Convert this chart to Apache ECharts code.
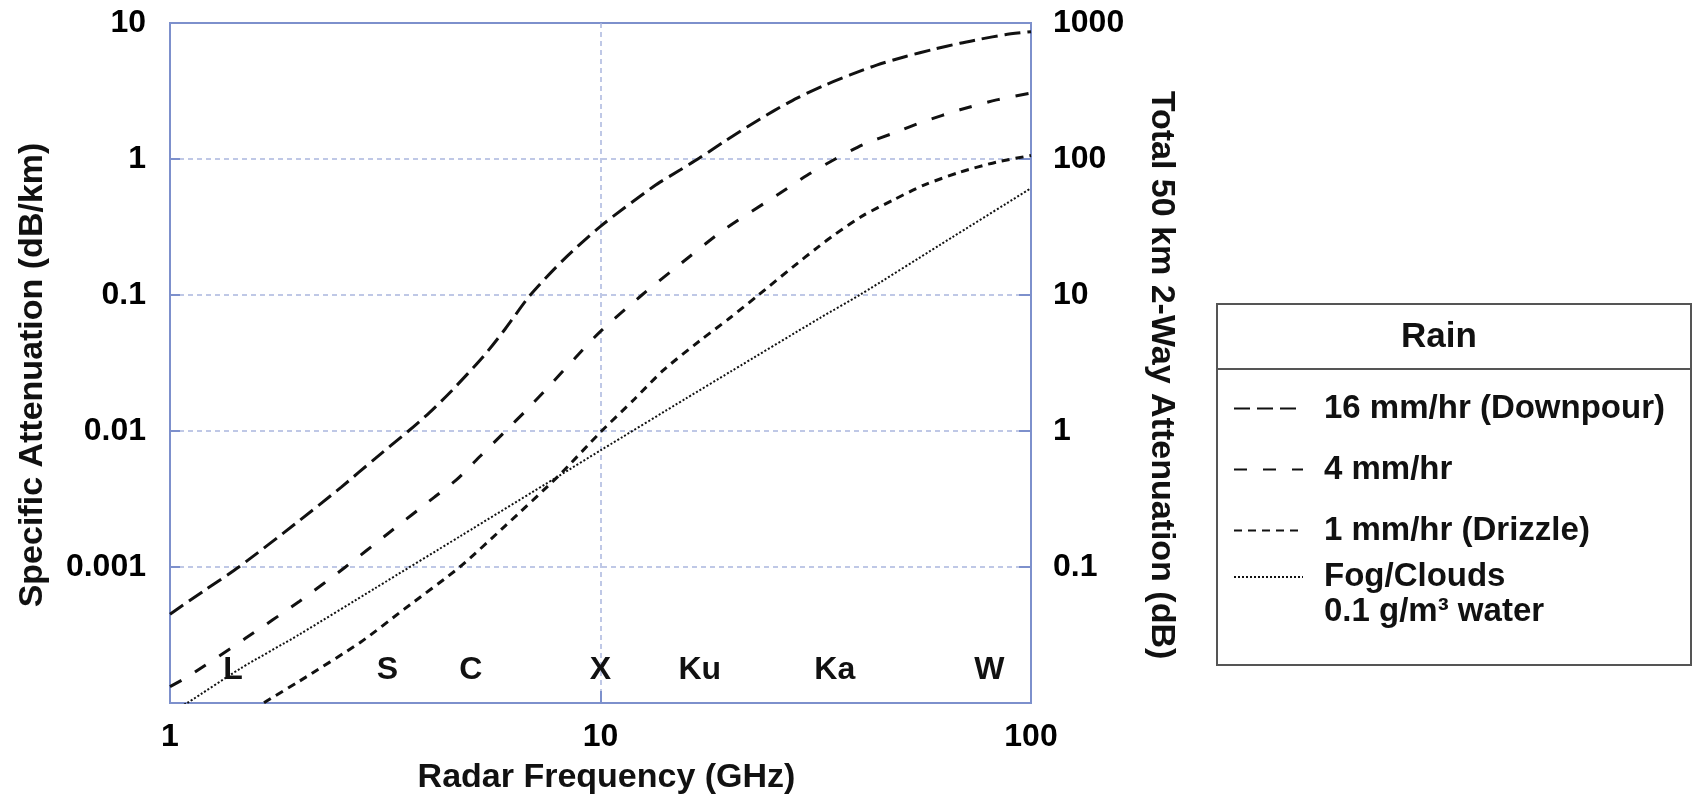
<!DOCTYPE html>
<html>
<head>
<meta charset="utf-8">
<script src="https://cdn.jsdelivr.net/npm/echarts@6/dist/echarts.min.js"></script>
<style>
  html, body { margin: 0; padding: 0; background: #ffffff; }
  #chart { width: 1693px; height: 800px; }
</style>
</head>
<body>
<div id="chart"></div>
<script>
// ---------------- DATA ----------------
// Frequencies in GHz, specific attenuation in dB/km
const freqDownpour  = [1.0, 1.2, 1.445, 2.0, 2.5, 3.0, 3.58, 4.0, 4.5, 5.35, 6.0, 6.87, 8.21, 10.0, 13.28, 15.3, 17.0, 19.3, 21.9, 25.2, 28.6, 32.9, 38.0, 43.8, 51.4, 59.3, 68.4, 76.1, 87.0, 100];
const attenDownpour = [4.5e-4, 6.7e-4, 1.0e-3, 2.2e-3, 3.87e-3, 6.3e-3, 0.010, 0.0136, 0.0196, 0.0355, 0.056, 0.10, 0.182, 0.32, 0.628, 0.83, 1.02, 1.33, 1.72, 2.25, 2.8, 3.45, 4.15, 4.9, 5.7, 6.4, 7.1, 7.6, 8.2, 8.63];

const freqModerate  = [1.0, 1.096, 1.5, 2.0, 2.556, 3.2, 4.1, 4.64, 5.26, 5.96, 6.75, 7.64, 8.7, 10.0, 12.48, 15.0, 19.3, 26.1, 30.2, 35.1, 40.8, 47.9, 56.2, 68.4, 83.2, 100];
const attenModerate = [1.32e-4, 1.55e-4, 3.0e-4, 5.6e-4, 1.0e-3, 1.75e-3, 3.24e-3, 4.41e-3, 6.55e-3, 9.7e-3, 0.0144, 0.0218, 0.034, 0.054, 0.10, 0.16, 0.30, 0.56, 0.76, 1.0, 1.28, 1.55, 1.88, 2.3, 2.72, 3.05];

const freqDrizzle   = [1.0, 1.3, 1.651, 2.0, 2.77, 3.5, 4.71, 6.0, 8.0, 10.0, 12.0, 14.0, 17.0, 20.0, 23.28, 28.0, 32.0, 35.1, 40.8, 47.9, 56.2, 68.4, 83.2, 100];
const attenDrizzle  = [3.6e-5, 5.9e-5, 1.0e-4, 1.45e-4, 2.8e-4, 4.9e-4, 1.0e-3, 2.0e-3, 4.7e-3, 0.0098, 0.0172, 0.028, 0.046, 0.068, 0.10, 0.161, 0.225, 0.28, 0.385, 0.50, 0.64, 0.80, 0.95, 1.06];

const freqFog       = [1.0, 1.096, 1.46, 2.0, 3.0, 4.73, 8.0, 10.0, 15.87, 20.0, 32.4, 40.0, 61.5, 100];
const attenFog      = [8.5e-5, 1.0e-4, 1.8e-4, 3.2e-4, 7.0e-4, 1.69e-3, 4.67e-3, 7.2e-3, 0.0175, 0.0272, 0.068, 0.10, 0.234, 0.61];

const seriesNames = ['16 mm/hr (Downpour)', '4 mm/hr', '1 mm/hr (Drizzle)', 'Fog/Clouds'];
const fogSubtitle = '0.1 g/m³ water';
const legendTitle = 'Rain';

// Radar band labels and their centre frequencies (GHz)
const bandNames = ['L', 'S', 'C', 'X', 'Ku', 'Ka', 'W'];
const bandFreqs = [1.4, 3.2, 5.0, 10.0, 17.0, 35.0, 80.0];
const bandLabelLevel = 1.75e-4; // dB/km level at which band names sit

// Tick labels
const xTicks = [1, 10, 100];
const xTickLabels = ['1', '10', '100'];
const yLeftTicks = [0.001, 0.01, 0.1, 1, 10];
const yLeftTickLabels = ['0.001', '0.01', '0.1', '1', '10'];
const yRightTicks = [0.1, 1, 10, 100, 1000];
const yRightTickLabels = ['0.1', '1', '10', '100', '1000'];

const xTitle = 'Radar Frequency (GHz)';
const yLeftTitle = 'Specific Attenuation (dB/km)';
const yRightTitle = 'Total 50 km 2-Way Attenuation (dB)';

// ---------------- CHART ----------------
function zip(xs, ys) { return xs.map((x, i) => [x, ys[i]]); }
function tickFormatter(ticks, labels) {
  return function (v) {
    const i = ticks.findIndex(t => Math.abs(Math.log10(v) - Math.log10(t)) < 1e-6);
    return i >= 0 ? labels[i] : '';
  };
}

const FONT = '"Liberation Sans", Arial, Helvetica, sans-serif';
const AXIS_BLUE = '#7d90cc';
const GRID_BLUE = '#aab7de';
const INK = '#111111';

const chart = echarts.init(document.getElementById('chart'), null, { renderer: 'canvas' });

const lineCommon = {
  type: 'line',
  showSymbol: false,
  symbol: 'none',
  smooth: 0.25,
  clip: true,
  silent: true,
  xAxisIndex: 0,
  yAxisIndex: 0
};

const legendText = {
  fontFamily: FONT,
  fontWeight: 'bold',
  fontSize: 33,
  color: INK,
  rich: {
    t: { fontFamily: FONT, fontWeight: 'bold', fontSize: 33, color: INK, lineHeight: 35, padding: [0, 0, 0, 16] },
    h: { fontSize: 10, lineHeight: 35 }
  }
};
const legendItemStyle = { opacity: 0, borderWidth: 0 };

const option = {
  backgroundColor: '#ffffff',
  animation: false,
  textStyle: { fontFamily: FONT },
  grid: {
    left: 170, top: 23, width: 861, height: 681,
    show: true, borderColor: AXIS_BLUE, borderWidth: 2, backgroundColor: 'transparent'
  },
  xAxis: {
    type: 'log', logBase: 10, min: 1, max: 100,
    name: xTitle, nameLocation: 'middle', nameGap: 58,
    nameTextStyle: { fontFamily: FONT, fontWeight: 'bold', fontSize: 34, color: INK, padding: [0, 0, 0, 12] },
    axisLine: { show: true, lineStyle: { color: AXIS_BLUE, width: 2 } },
    axisTick: { show: true, inside: true, length: 12, lineStyle: { color: AXIS_BLUE, width: 2 } },
    minorTick: { show: false },
    axisLabel: { margin: 18, fontFamily: FONT, fontWeight: 'bold', fontSize: 32, color: '#000', formatter: tickFormatter(xTicks, xTickLabels) },
    splitLine: { show: true, showMinLine: false, showMaxLine: false, lineStyle: { color: GRID_BLUE, width: 1.5, type: [5, 4] } }
  },
  yAxis: [
    {
      type: 'log', logBase: 10, min: 0.0001, max: 10, position: 'left',
      name: yLeftTitle, nameLocation: 'middle', nameGap: 120,
      nameTextStyle: { fontFamily: FONT, fontWeight: 'bold', fontSize: 34, color: INK, padding: [0, 24, 0, 0] },
      axisLine: { show: true, lineStyle: { color: AXIS_BLUE, width: 2 } },
      axisTick: { show: true, inside: true, length: 10, lineStyle: { color: AXIS_BLUE, width: 2 } },
      axisLabel: { margin: 24, fontFamily: FONT, fontWeight: 'bold', fontSize: 32, color: '#000', formatter: tickFormatter(yLeftTicks, yLeftTickLabels) },
      splitLine: { show: true, showMinLine: false, showMaxLine: false, lineStyle: { color: GRID_BLUE, width: 1.5, type: [5, 4] } }
    },
    {
      type: 'log', logBase: 10, min: 0.01, max: 1000, position: 'right',
      name: yRightTitle, nameLocation: 'middle', nameGap: 113, nameRotate: -90,
      nameTextStyle: { fontFamily: FONT, fontWeight: 'bold', fontSize: 34, color: INK, padding: [0, 0, 0, 24] },
      axisLine: { show: true, lineStyle: { color: AXIS_BLUE, width: 2 } },
      axisTick: { show: true, inside: true, length: 12, lineStyle: { color: AXIS_BLUE, width: 2 } },
      axisLabel: { margin: 22, fontFamily: FONT, fontWeight: 'bold', fontSize: 32, color: '#000', formatter: tickFormatter(yRightTicks, yRightTickLabels) },
      splitLine: { show: false }
    }
  ],
  legend: [
    {
      data: seriesNames.slice(0, 3),
      orient: 'vertical',
      left: 1233, top: 392,
      padding: 0,
      itemWidth: 69, itemHeight: 14, itemGap: 28,
      selectedMode: false,
      itemStyle: legendItemStyle,
      textStyle: legendText,
      formatter: name => '{t|' + name + '}'
    },
    {
      data: [seriesNames[3]],
      orient: 'vertical',
      left: 1233, top: 537,
      padding: 0,
      itemWidth: 69, itemHeight: 14,
      selectedMode: false,
      itemStyle: legendItemStyle,
      textStyle: legendText,
      formatter: name => '{h| }\n{t|' + name + '}\n{t|' + fogSubtitle + '}'
    }
  ],
  graphic: [
    {
      type: 'rect', z: 0, silent: true,
      shape: { x: 1217, y: 304, width: 474, height: 361 },
      style: { fill: '#ffffff', stroke: '#555555', lineWidth: 2 }
    },
    {
      type: 'line', z: 1, silent: true,
      shape: { x1: 1217, y1: 369, x2: 1691, y2: 369 },
      style: { stroke: '#555555', lineWidth: 2 }
    },
    {
      type: 'text', z: 1, silent: true,
      x: 1439, y: 337,
      style: { text: legendTitle, fontFamily: FONT, fontWeight: 'bold', fontSize: 35, fill: INK, align: 'center', verticalAlign: 'middle' }
    }
  ],
  series: [
    Object.assign({}, lineCommon, {
      name: seriesNames[0], data: zip(freqDownpour, attenDownpour),
      lineStyle: { color: INK, width: 3, type: [16, 7] }, itemStyle: { color: INK }
    }),
    Object.assign({}, lineCommon, {
      name: seriesNames[1], data: zip(freqModerate, attenModerate),
      lineStyle: { color: INK, width: 3, type: [13, 16] }, itemStyle: { color: INK }
    }),
    Object.assign({}, lineCommon, {
      name: seriesNames[2], data: zip(freqDrizzle, attenDrizzle),
      lineStyle: { color: INK, width: 3, type: [8, 6] }, itemStyle: { color: INK }
    }),
    Object.assign({}, lineCommon, {
      name: seriesNames[3], data: zip(freqFog, attenFog),
      lineStyle: { color: INK, width: 2, type: [2, 2] }, itemStyle: { color: INK }
    }),
    {
      type: 'scatter', name: 'bands', silent: true,
      xAxisIndex: 0, yAxisIndex: 0,
      symbolSize: 1,
      itemStyle: { opacity: 0 },
      data: bandFreqs.map((f, i) => ({ value: [f, bandLabelLevel], name: bandNames[i] })),
      label: {
        show: true, position: 'inside', opacity: 1,
        formatter: p => p.name,
        fontFamily: FONT, fontWeight: 'bold', fontSize: 32, color: INK
      },
      z: 5
    }
  ]
};

chart.setOption(option);
</script>
</body>
</html>
